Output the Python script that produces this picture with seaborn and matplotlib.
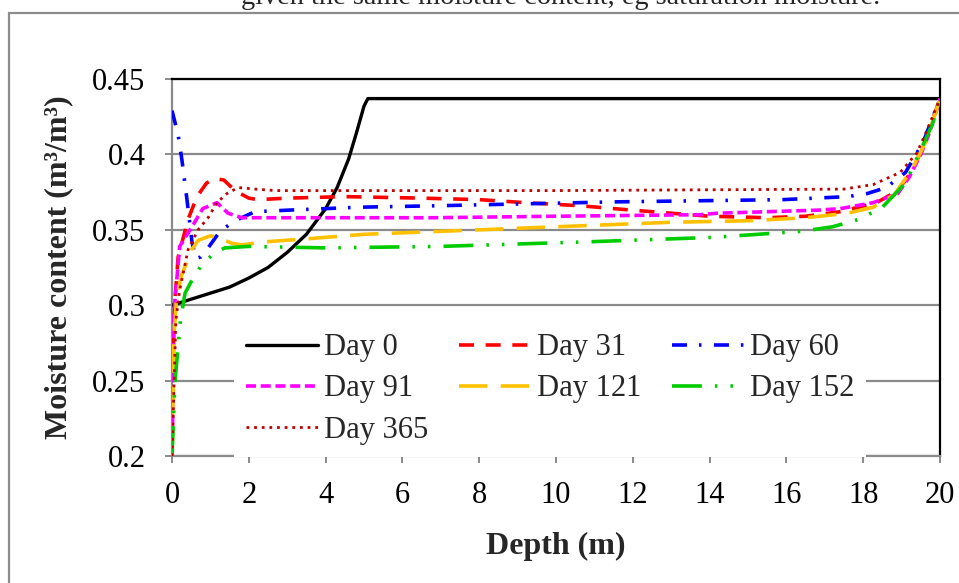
import matplotlib
matplotlib.use("Agg")
import matplotlib.pyplot as plt
from matplotlib.patches import Rectangle
import pandas as pd
import seaborn as sns

# Moisture profiles: depth (m) and volumetric moisture content (m3/m3)
depth_day0 = [0, 0.5, 1.0, 1.5, 2.0, 2.5, 3.0, 3.5, 4.0, 4.3, 4.6, 4.8, 5.0, 5.1, 20]
moist_day0 = [0.300, 0.304, 0.308, 0.312, 0.318, 0.325, 0.335, 0.347, 0.364, 0.378,
              0.397, 0.414, 0.432, 0.437, 0.437]

depth_day31 = [0, 0.03, 0.08, 0.16, 0.42, 0.65, 0.9, 1.12, 1.35, 1.64, 2.0, 2.24, 3.0,
               4.5, 6.5, 8.0, 9.2, 10.6, 12.0, 14.0, 15.5, 16.5, 17.4, 18.35, 18.9,
               19.3, 19.6, 20]
moist_day31 = [0.200, 0.270, 0.305, 0.332, 0.357, 0.372, 0.381, 0.384, 0.383, 0.376,
               0.371, 0.370, 0.371, 0.372, 0.371, 0.370, 0.368, 0.366, 0.363, 0.359,
               0.358, 0.359, 0.362, 0.368, 0.376, 0.390, 0.408, 0.437]

depth_day60 = [0, 0.16, 0.26, 0.39, 0.52, 0.62, 0.75, 0.94, 1.25, 1.64, 2.16, 3.0, 4.9,
               7.0, 11.5, 15.9, 17.6, 18.1, 18.6, 19.1, 19.56, 20]
moist_day60 = [0.429, 0.413, 0.396, 0.370, 0.342, 0.331, 0.332, 0.338, 0.349, 0.356,
               0.362, 0.363, 0.365, 0.366, 0.3685, 0.370, 0.372, 0.374, 0.378, 0.388,
               0.408, 0.437]

depth_day91 = [0, 0.05, 0.2, 0.52, 0.8, 1.17, 1.46, 1.82, 2.4, 6.8, 10.0, 13.75, 14.2,
               16.8, 17.4, 18.26, 18.9, 19.2, 19.5, 19.75, 20]
moist_day91 = [0.200, 0.295, 0.339, 0.352, 0.364, 0.368, 0.361, 0.358, 0.358, 0.358,
               0.359, 0.360, 0.361, 0.363, 0.364, 0.368, 0.374, 0.385, 0.400, 0.416,
               0.437]

depth_day121 = [0, 0.05, 0.12, 0.25, 0.52, 0.68, 1.0, 1.2, 1.56, 1.82, 2.4, 3.5, 5.0,
                7.0, 9.0, 11.0, 13.0, 15.0, 16.5, 17.6, 18.26, 18.8, 19.27, 19.66, 20]
moist_day121 = [0.200, 0.280, 0.305, 0.320, 0.337, 0.343, 0.346, 0.345, 0.341, 0.340,
                0.342, 0.344, 0.347, 0.349, 0.351, 0.353, 0.355, 0.356, 0.358, 0.361,
                0.365, 0.373, 0.390, 0.410, 0.437]

depth_day152 = [0, 0.08, 0.15, 0.22, 0.34, 0.55, 0.78, 1.12, 1.38, 2.0, 4.0, 7.0, 10.8,
                14.1, 16.4, 17.2, 17.9, 18.5, 19.1, 19.5, 19.8, 20]
moist_day152 = [0.200, 0.250, 0.270, 0.290, 0.308, 0.318, 0.327, 0.335, 0.338, 0.339,
                0.338, 0.339, 0.342, 0.345, 0.349, 0.352, 0.357, 0.365, 0.381, 0.403,
                0.420, 0.437]

depth_day365 = [0, 0.1, 0.2, 0.42, 0.68, 0.94, 1.17, 1.43, 1.72, 2.16, 2.7, 10.0, 17.5,
                18.26, 18.96, 19.4, 19.66, 20]
moist_day365 = [0.200, 0.290, 0.310, 0.337, 0.350, 0.358, 0.368, 0.374, 0.378, 0.377,
                0.376, 0.376, 0.377, 0.380, 0.388, 0.401, 0.416, 0.437]

day_labels = ["Day 0", "Day 31", "Day 60", "Day 91", "Day 121", "Day 152", "Day 365"]
x_ticks = [0, 2, 4, 6, 8, 10, 12, 14, 16, 18, 20]
y_ticks = [0.2, 0.25, 0.3, 0.35, 0.4, 0.45]
y_tick_labels = ["0.2", "0.25", "0.3", "0.35", "0.4", "0.45"]

profiles = [
    (depth_day0, moist_day0),
    (depth_day31, moist_day31),
    (depth_day60, moist_day60),
    (depth_day91, moist_day91),
    (depth_day121, moist_day121),
    (depth_day152, moist_day152),
    (depth_day365, moist_day365),
]
frames = []
for label, (d, m) in zip(day_labels, profiles):
    frames.append(pd.DataFrame({"Depth": d, "Moisture": m, "Day": label}))
data = pd.concat(frames, ignore_index=True)

# line appearance per profile (dash lengths in points)
styles = {
    "Day 0":   dict(color="#000000", lw=2.4, ls="-"),
    "Day 31":  dict(color="#FF0000", lw=2.6, ls=(0, (10.8, 8.4))),
    "Day 60":  dict(color="#0000FF", lw=2.6, ls=(0, (10.8, 8.6, 1.8, 9.0))),
    "Day 91":  dict(color="#FF00FF", lw=2.6, ls=(0, (7.2, 3.4))),
    "Day 121": dict(color="#FFC000", lw=2.6, ls=(0, (20.5, 9.5))),
    "Day 152": dict(color="#00CC00", lw=2.6, ls=(0, (21.5, 9.4, 1.8, 9.4, 1.8, 9.4))),
    "Day 365": dict(color="#C00000", lw=2.0, ls=(0, (2.0, 3.5))),
}

sns.set_style("white")
plt.rcParams["font.family"] = ["Liberation Serif", "DejaVu Serif"]
plt.rcParams["lines.scale_dashes"] = False

fig = plt.figure(figsize=(9.59, 5.83), dpi=100)
ax = fig.add_axes([172 / 959, 127 / 583, 768 / 959, 377 / 583])

for label in day_labels:
    sub = data[data["Day"] == label]
    st = styles[label]
    sns.lineplot(data=sub, x="Depth", y="Moisture", ax=ax, estimator=None, sort=False,
                 color=st["color"], linewidth=st["lw"], linestyle=st["ls"],
                 label=label, zorder=3)

ax.set_xlim(0, 20)
ax.set_ylim(0.2, 0.45)
ax.set_xticks(x_ticks)
ax.set_xticklabels([str(t) for t in x_ticks])
ax.set_yticks(y_ticks)
ax.set_yticklabels(y_tick_labels)

grid_gray = "#8a8a8a"
ax.yaxis.grid(True, color=grid_gray, linewidth=1.6)
ax.xaxis.grid(False)
ax.set_axisbelow(True)
for side in ["left", "bottom"]:
    ax.spines[side].set_color(grid_gray)
    ax.spines[side].set_linewidth(1.6)
for side in ["top", "right"]:
    ax.spines[side].set_color("#000000")
    ax.spines[side].set_linewidth(1.6)

ax.tick_params(axis="both", direction="out", length=5, width=1.4, color=grid_gray,
               labelsize=22, labelcolor="#000000")
ax.tick_params(axis="y", pad=14, left=True)
ax.tick_params(axis="x", pad=13, bottom=True)

ax.set_xlabel("Depth (m)", fontsize=23, fontweight="bold", labelpad=16)
ax.set_ylabel("Moisture content (m³/m³)", fontsize=23, fontweight="bold", labelpad=14)

# legend filled row by row: reorder entries for matplotlib's column-major layout
handles, labels = ax.get_legend_handles_labels()
lookup = dict(zip(labels, handles))
order = ["Day 0", "Day 91", "Day 365", "Day 31", "Day 121", "Day 60", "Day 152"]
leg = ax.legend([lookup[k] for k in order], order, ncol=3, loc="upper left",
                bbox_to_anchor=(0.0807, 0.358), borderaxespad=0,
                frameon=True, fancybox=False, framealpha=1, facecolor="white",
                edgecolor="none", fontsize=22, handlelength=2.35, handletextpad=0.2,
                columnspacing=1.0, labelspacing=0.4, borderpad=0.4)
leg.set_zorder(4)

# surrounding frame of the figure panel and the caption line above it
fig.patches.append(Rectangle((9 / 959, -0.1), 1.2, (583 - 13) / 583 + 0.1,
                             transform=fig.transFigure, fill=False,
                             edgecolor="#8c8c8c", linewidth=1.6))
fig.text(561 / 959, 579 / 583, "given the same moisture content, eg saturation moisture.",
         ha="center", va="baseline", fontsize=20.3)

fig.savefig("out.png", dpi=100)
